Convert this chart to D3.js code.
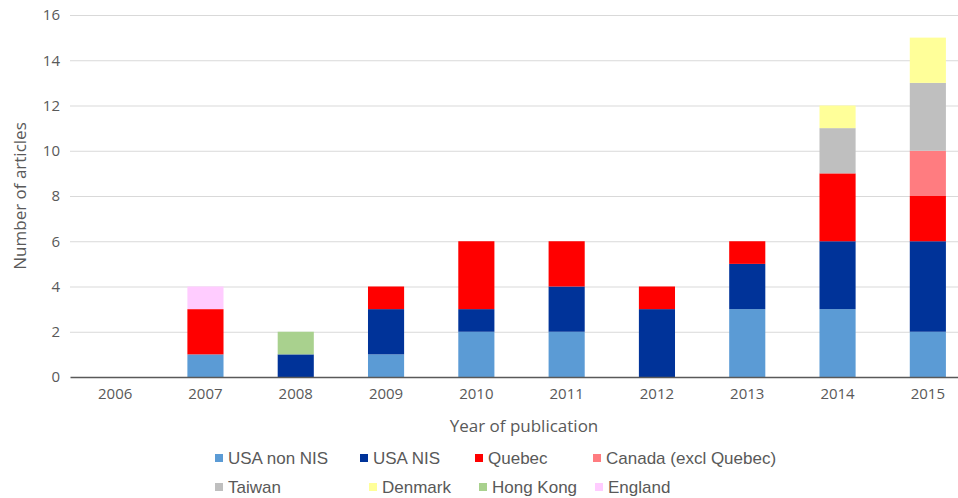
<!DOCTYPE html>
<html>
<head>
<meta charset="utf-8">
<script src="https://cdn.jsdelivr.net/npm/d3@7"></script>
<style>
  body { margin: 0; background: #fff; }
  svg { display: block; }
</style>
</head>
<body>
<div id="chart"></div>
<script>
// Data
const years = ["2006", "2007", "2008", "2009", "2010", "2011", "2012", "2013", "2014", "2015"];
const seriesNames = ["USA non NIS", "USA NIS", "Quebec", "Canada (excl Quebec)", "Taiwan", "Denmark", "Hong Kong", "England"];
const seriesColors = ["#5b9bd5", "#003399", "#ff0000", "#ff7c80", "#bfbfbf", "#ffff99", "#a9d18e", "#ffccff"];

const usaNonNis = [0, 1, 0, 1, 2, 2, 0, 3, 3, 2];
const usaNis    = [0, 0, 1, 2, 1, 2, 3, 2, 3, 4];
const quebec    = [0, 2, 0, 1, 3, 2, 1, 1, 3, 2];
const canada    = [0, 0, 0, 0, 0, 0, 0, 0, 0, 2];
const taiwan    = [0, 0, 0, 0, 0, 0, 0, 0, 2, 3];
const denmark   = [0, 0, 0, 0, 0, 0, 0, 0, 1, 2];
const hongKong  = [0, 0, 1, 0, 0, 0, 0, 0, 0, 0];
const england   = [0, 1, 0, 0, 0, 0, 0, 0, 0, 0];

const yTicks = [0, 2, 4, 6, 8, 10, 12, 14, 16];

// Build table for d3.stack
const seriesValues = [usaNonNis, usaNis, quebec, canada, taiwan, denmark, hongKong, england];
const table = years.map((year, i) => {
  const row = { year };
  seriesNames.forEach((name, s) => { row[name] = seriesValues[s][i]; });
  return row;
});

const width = 958;
const height = 498;
const margin = { left: 70, right: -15, top: 15, bottom: 121 };
const axisFont = "'Open Sans', Lato, sans-serif";

const svg = d3.select("#chart")
  .append("svg")
  .attr("width", width)
  .attr("height", height);

const x = d3.scaleBand()
  .domain(years)
  .range([margin.left, width - margin.right])
  .paddingInner(0.6)
  .paddingOuter(0.3);

const y = d3.scaleLinear()
  .domain([0, 16])
  .range([height - margin.bottom, margin.top]);

// Gridlines
svg.append("g")
  .selectAll("line")
  .data(yTicks.filter((t) => t > 0))
  .enter()
  .append("line")
  .attr("x1", margin.left)
  .attr("x2", width - margin.right)
  .attr("y1", (d) => y(d) + 0.5)
  .attr("y2", (d) => y(d) + 0.5)
  .attr("stroke", "#d9d9d9")
  .attr("stroke-width", 1);

// Bars
const stacked = d3.stack().keys(seriesNames)(table);

svg.append("g")
  .selectAll("g")
  .data(stacked)
  .enter()
  .append("g")
  .attr("fill", (d, i) => seriesColors[i])
  .selectAll("rect")
  .data((d) => d.filter((p) => p[1] > p[0]))
  .enter()
  .append("rect")
  .attr("x", (d) => x(d.data.year))
  .attr("width", x.bandwidth())
  .attr("y", (d) => y(d[1]))
  .attr("height", (d) => y(d[0]) - y(d[1]));

// X axis
const xAxis = svg.append("g")
  .attr("transform", `translate(0,${y(0)})`)
  .call(d3.axisBottom(x).tickSize(0).tickPadding(11));
xAxis.select(".domain")
  .attr("stroke", "#595959")
  .attr("stroke-width", 1.3);
xAxis.selectAll("text")
  .attr("fill", "#595959")
  .style("font-family", axisFont)
  .style("font-size", "15px");

// Y axis
const yAxis = svg.append("g")
  .attr("transform", `translate(${margin.left},0)`)
  .call(d3.axisLeft(y).tickValues(yTicks).tickSize(0).tickPadding(10));
yAxis.select(".domain").remove();
yAxis.selectAll("text")
  .attr("fill", "#595959")
  .style("font-family", axisFont)
  .style("font-size", "15px");

// Axis titles
svg.append("text")
  .attr("x", 524)
  .attr("y", 432)
  .attr("text-anchor", "middle")
  .attr("fill", "#595959")
  .style("font-family", axisFont)
  .style("font-size", "17px")
  .text("Year of publication");

svg.append("text")
  .attr("transform", `translate(26,${(y(0) + y(16)) / 2}) rotate(-90)`)
  .attr("text-anchor", "middle")
  .attr("fill", "#595959")
  .style("font-family", axisFont)
  .style("font-size", "17px")
  .text("Number of articles");

// Legend (two rows, Excel style)
const legendRows = [
  { y: 458, items: [0, 1, 2, 3], xs: [215, 360, 475, 593] },
  { y: 487, items: [4, 5, 6, 7], xs: [215, 369, 479, 595] },
];

const legend = svg.append("g");
legendRows.forEach((row) => {
  row.items.forEach((s, k) => {
    const g = legend.append("g").attr("transform", `translate(${row.xs[k]},${row.y})`);
    g.append("rect")
      .attr("x", 0)
      .attr("y", -4)
      .attr("width", 8)
      .attr("height", 8)
      .attr("fill", seriesColors[s]);
    g.append("text")
      .attr("x", 13)
      .attr("dy", "0.35em")
      .attr("fill", "#595959")
      .style("font-family", "'Liberation Sans', Arial, sans-serif")
      .style("font-size", "17px")
      .text(seriesNames[s]);
  });
});
</script>
</body>
</html>
